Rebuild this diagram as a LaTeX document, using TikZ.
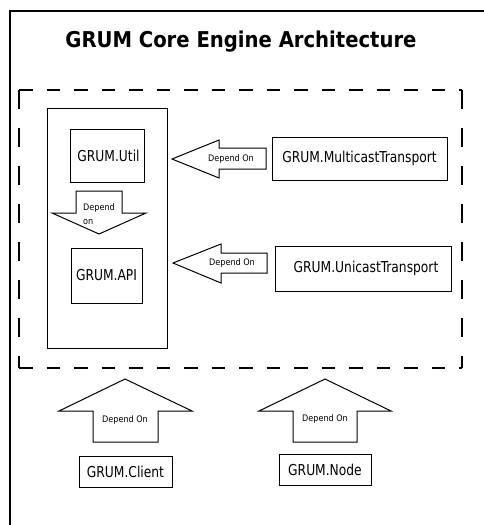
\documentclass[tikz,border=0pt]{standalone}
\usepackage{fontspec}
\setmainfont{DejaVu Sans Condensed}
\newfontfamily\boxfont[FakeStretch=0.91]{DejaVu Sans Condensed}
\begin{document}
\begin{tikzpicture}[x=1pt,y=-1pt,
  box/.style={draw,line width=1pt,inner sep=0pt,font=\boxfont\fontsize{15}{17}\selectfont},
  arrowshape/.style={draw,line width=1pt,line join=miter},
  dep/.style={inner sep=0pt,font=\fontsize{9}{10}\selectfont},
  hdash/.style={line width=1.3pt,dash pattern=on 13.5pt off 14pt},
  vdash/.style={line width=1.3pt,dash pattern=on 19pt off 19pt}]
\useasboundingbox (0,0) rectangle (484,525);
\clip (0,0) rectangle (484,525);
% outer frame
\draw[line width=1.5pt] (10,530) -- (10,11) -- (490,11);
\node[font=\bfseries\fontsize{21.8}{26}\selectfont] (title) at (241,42) {GRUM Core Engine Architecture};
% dashed group
\coordinate (gtl) at (19,90);
\coordinate (gtr) at (462,90);
\coordinate (gbl) at (19,368);
\coordinate (gbr) at (462,368);
\draw[hdash] (gtl) -- (gtr);
\draw[hdash] (gbl) -- (gbr);
\draw[vdash] (gtl) -- (gbl);
\draw[vdash] (gtr) -- (gbr);
% core box
\node[draw,line width=1pt,minimum width=120pt,minimum height=240pt,inner sep=0pt] (core) at (107,228) {};
\node[box,minimum width=74pt,minimum height=53pt] (util) at (107,155.5) {\hspace{3pt}GRUM.Util};
\node[box,minimum width=71pt,minimum height=55pt] (api) at (106.5,275.5) {GRUM.API};
\node[box,minimum width=175pt,minimum height=43pt] (multi) at (359.5,158.5) {GRUM.MulticastTransport};
\node[box,minimum width=176pt,minimum height=45pt] (uni) at (363,268.5) {\hspace{6pt}GRUM.UnicastTransport};
\node[box,minimum width=93pt,minimum height=31pt] (client) at (125.5,471.5) {GRUM.Client};
\node[box,minimum width=92pt,minimum height=31pt] (gnode) at (325,469.5) {GRUM.Node};
% arrows
\draw[arrowshape] (76,191) -- (122,191) -- (122,213) -- (146,213) -- (99,234) -- (52,213) -- (76,213) -- cycle;
\node[dep,align=left,anchor=west,font=\fontsize{9}{14.5}\selectfont] (d1) at (83,214) {Depend\\on};
\draw[arrowshape] (266,148) -- (219,148) -- (219,140) -- (172,159) -- (219,178) -- (219,169) -- (266,169) -- cycle;
\node[dep] (d2) at (231,159) {Depend On};
\draw[arrowshape] (267,253) -- (221,253) -- (221,244) -- (173,263) -- (221,283) -- (221,273) -- (267,273) -- cycle;
\node[dep] (d3) at (232,263) {Depend On};
\draw[arrowshape] (93,442) -- (93,411) -- (59,411) -- (125,379) -- (192,411) -- (158,411) -- (158,442) -- cycle;
\node[dep] (d4) at (125,420) {Depend On};
\draw[arrowshape] (293,442) -- (293,411) -- (259,411) -- (325,379) -- (391,411) -- (357,411) -- (357,442) -- cycle;
\node[dep] (d5) at (325,419) {Depend On};
\end{tikzpicture}
\end{document}
